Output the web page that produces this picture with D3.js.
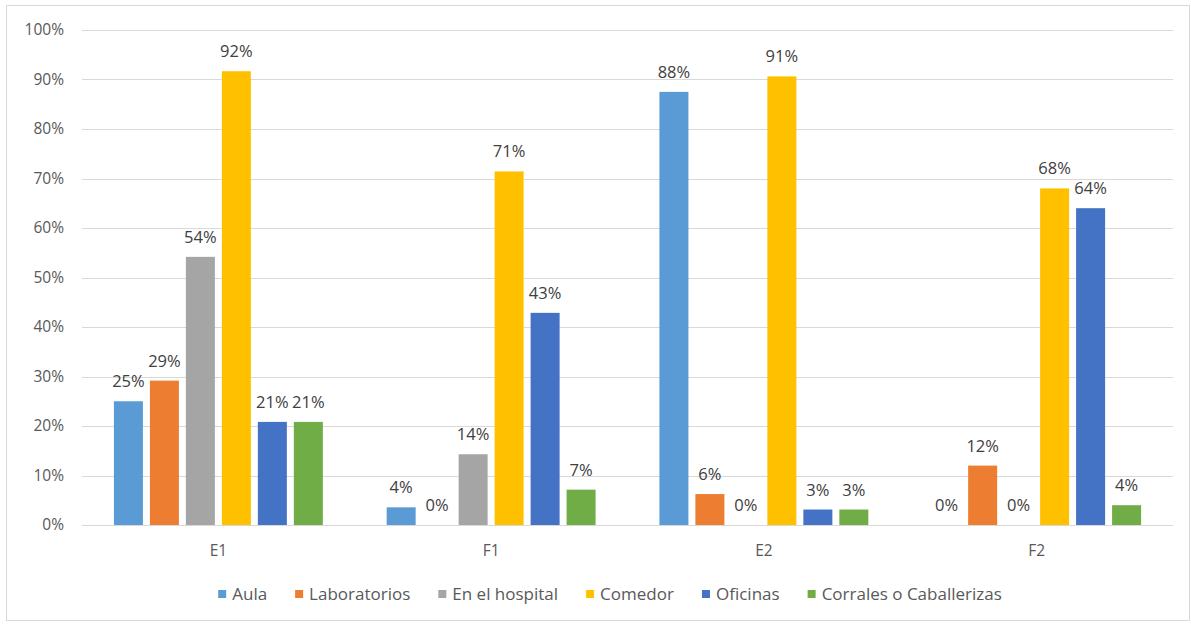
<!DOCTYPE html>
<html><head><meta charset="utf-8">
<script src="https://cdn.jsdelivr.net/npm/d3@7"></script>
<style>body{margin:0;background:#fff}svg{display:block;font-family:"Open Sans","Liberation Sans",Arial,sans-serif}</style>
</head><body><svg id="c" width="1191" height="624"></svg>
<script>
const categories = ["E1","F1","E2","F2"];
const series = ["Aula","Laboratorios","En el hospital","Comedor","Oficinas","Corrales o Caballerizas"];
const colors = ["#5B9BD5","#ED7D31","#A5A5A5","#FFC000","#4472C4","#70AD47"];
const aula = [0.25, 0.0357, 0.875, 0];
const laboratorios = [0.2917, 0, 0.0625, 0.12];
const hospital = [0.5417, 0.1429, 0, 0];
const comedor = [0.9167, 0.7143, 0.9063, 0.68];
const oficinas = [0.2083, 0.4286, 0.03125, 0.64];
const corrales = [0.2083, 0.0714, 0.03125, 0.04];
const yTicks = [0,0.1,0.2,0.3,0.4,0.5,0.6,0.7,0.8,0.9,1.0];
const values = [aula, laboratorios, hospital, comedor, oficinas, corrales];

const svg = d3.select("#c");
svg.append("rect").attr("x",6.5).attr("y",5.5).attr("width",1183).attr("height",615)
  .attr("fill","#fff").attr("stroke","#d9d9d9");

const L = 82, R = 1173, T = 30, B = 525;
const x0 = d3.scaleBand().domain(categories).range([L,R]);
const y = d3.scaleLinear().domain([0,1]).range([B,T]);
const span = x0.bandwidth()*0.766;
const x1 = d3.scaleBand().domain(series)
  .range([(x0.bandwidth()-span)/2,(x0.bandwidth()+span)/2]).paddingInner(0.194);

const pct = d3.format(".0%");
const txt = "#595959";

svg.append("g").selectAll("line").data(yTicks).join("line")
  .attr("x1",L).attr("x2",R).attr("y1",d=>Math.round(y(d))+0.5).attr("y2",d=>Math.round(y(d))+0.5)
  .attr("stroke","#d9d9d9").attr("stroke-width",1);

svg.append("g").selectAll("text").data(yTicks).join("text")
  .attr("x",64).attr("y",d=>y(d)).attr("dy","0.35em").attr("text-anchor","end")
  .attr("font-size",15.5).attr("fill",txt).text(d=>pct(d));

svg.append("g").selectAll("text").data(categories).join("text")
  .attr("x",d=>x0(d)+x0.bandwidth()/2).attr("y",551).attr("dy","0.35em").attr("text-anchor","middle")
  .attr("font-size",15.5).attr("fill",txt).text(d=>d);

const data = [];
categories.forEach((c,i)=>series.forEach((s,j)=>data.push({c,s,j,v:values[j][i]})));

const g = svg.append("g");
g.selectAll("rect").data(data).join("rect")
  .attr("x",d=>x0(d.c)+x1(d.s)).attr("width",x1.bandwidth())
  .attr("y",d=>y(d.v)).attr("height",d=>B-y(d.v)).attr("fill",d=>colors[d.j]);

g.selectAll("text").data(data).join("text")
  .attr("x",d=>x0(d.c)+x1(d.s)+x1.bandwidth()/2).attr("y",d=>y(d.v)-14)
  .attr("text-anchor","middle").attr("font-size",16.5).attr("fill","#404040").text(d=>pct(d.v));

// legend
const lg = svg.append("g");
const items = lg.selectAll("g").data(series).join("g");
items.append("rect").attr("width",8).attr("height",8).attr("y",-4).attr("fill",(d,i)=>colors[i]);
items.append("text").attr("x",14).attr("dy","0.35em").attr("font-size",17).attr("fill",txt).text(d=>d);
let pos = 0; const xs = [];
const gap = 28;
items.each(function(){ xs.push(pos); pos += this.getBBox().width + gap; });
const total = pos - gap;
const start = 610 - total/2;
items.attr("transform",(d,i)=>`translate(${start+xs[i]},594)`);
</script></body></html>
